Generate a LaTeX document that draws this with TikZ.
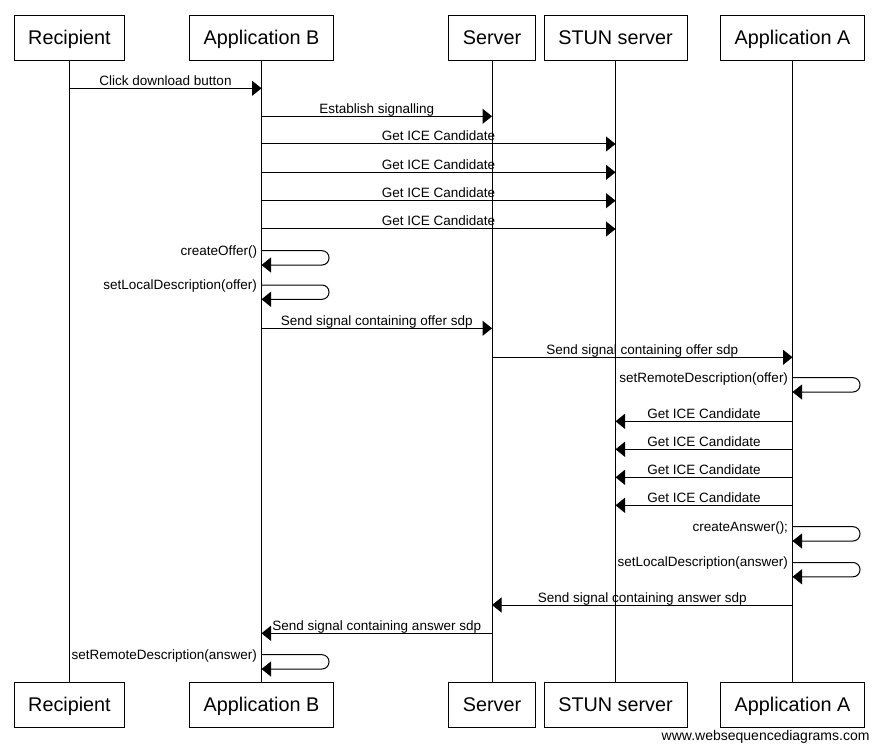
\documentclass[tikz,border=0pt]{standalone}
\usepackage{fontspec}
\setmainfont{Liberation Sans}
\usetikzlibrary{arrows.meta}
\def\boxtop{-38}
\def\boxbot{-704.8}
\def\loopw{67.5}
\def\looph{14.3}

\begin{document}
\begin{tikzpicture}[x=1pt,y=1pt,line width=1pt]
    \tikzstyle{actor}=[draw,rectangle,minimum height=45pt,inner sep=0pt,text height=14pt,text depth=0pt,font=\fontsize{19.8}{23}\selectfont]
    \tikzstyle{msg}=[-{Triangle[length=9.5pt,width=15pt]}]
    \tikzstyle{msglabel}=[anchor=base,yshift=3pt,inner sep=0pt,font=\fontsize{13.5}{15}\selectfont]
    \tikzstyle{selflabel}=[anchor=east,xshift=-4pt,yshift=-1pt,inner sep=0pt,font=\fontsize{13.5}{15}\selectfont]
    \useasboundingbox (0,0) rectangle (880,-751);

    % Draw the actors and lifelines
    \foreach \name / \label / \x / \w in {R/Recipient/69.5/110, AB/Application B/261.5/144, S/Server/492/87, ST/STUN server/615.5/143, AA/Application A/792.5/144}
    {
        \node[actor,minimum width=\w pt] (\name-top) at (\x,\boxtop) {\label};
        \node[actor,minimum width=\w pt] (\name-bot) at (\x,\boxbot) {\label};
        \draw (\name-top) -- (\name-bot);
    }

    % Draw the offer side
    \draw[msg] (R-top |- 0,-88.3) -- node[msglabel] {Click download button} (AB-top |- 0,-88.3);
    \draw[msg] (AB-top |- 0,-116.3) -- node[msglabel] {Establish signalling} (S-top |- 0,-116.3);
    \foreach \y in {144,172.3,200.7,229}
        \draw[msg] (AB-top |- 0,-\y) -- node[msglabel] {Get ICE Candidate} (ST-top |- 0,-\y);
    \draw[msg] (AB-top |- 0,-328.3) -- node[msglabel] {Send signal containing offer sdp} (S-top |- 0,-328.3);
    \draw[msg] (S-top |- 0,-357.3) -- node[msglabel] {Send signal containing offer sdp} (AA-top |- 0,-357.3);

    % Draw the answer side
    \foreach \y in {421.3,449.3,477.3,505.3}
        \draw[msg] (AA-top |- 0,-\y) -- node[msglabel] {Get ICE Candidate} (ST-top |- 0,-\y);
    \draw[msg] (AA-top |- 0,-605) -- node[msglabel] {Send signal containing answer sdp} (S-top |- 0,-605);
    \draw[msg] (S-top |- 0,-633.3) -- node[msglabel] {Send signal containing answer sdp} (AB-top |- 0,-633.3);

    % Draw the self calls
    \foreach \who / \y / \txt in {AB/250.7/createOffer(), AB/285/setLocalDescription(offer), AA/377.7/setRemoteDescription(offer), AA/526.7/{createAnswer();}, AA/562.5/setLocalDescription(answer), AB/654.7/setRemoteDescription(answer)}
        \draw[msg,rounded corners=7pt] (\who-top |- 0,-\y) node[selflabel] {\txt} -- ++(\loopw,0) -- ++(0,-\looph) -- (\who-top |- 0,-\y-\looph);

    \node[anchor=east,inner sep=0pt,font=\fontsize{14}{16}\selectfont] (footer) at (870,-736.5) {www.websequencediagrams.com};
\end{tikzpicture}
\end{document}
